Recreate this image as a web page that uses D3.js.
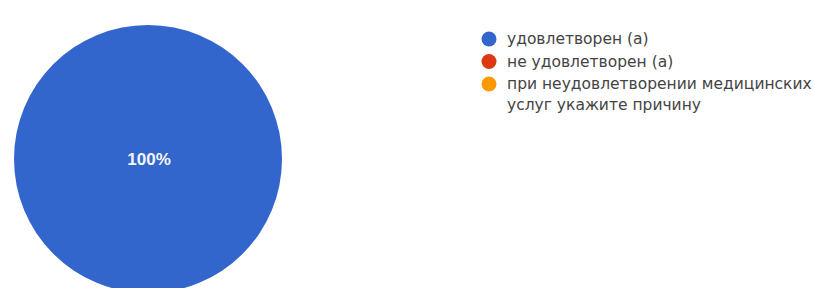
<!DOCTYPE html>
<html>
<head>
<meta charset="utf-8">
<script src="https://cdn.jsdelivr.net/npm/d3@7"></script>
<style>
  body { margin: 0; background: #fff; }
  text { font-family: Arial, "Liberation Sans", sans-serif; }
  .legend-label { font-family: "DejaVu Sans", Verdana, sans-serif; }
</style>
</head>
<body>
<div class="chart"></div>
<script>
const categories = ['удовлетворен (а)', 'не удовлетворен (а)', 'при неудовлетворении медицинских услуг укажите причину'];
const values = [100, 0, 0];
const colors = ['#3366cc', '#dc3912', '#ff9900'];
// legend labels split into lines as shown in the picture
const legendLines = [['удовлетворен (а)'], ['не удовлетворен (а)'], ['при неудовлетворении медицинских', 'услуг укажите причину']];

const width = 815, height = 288;
const svg = d3.select('.chart').append('svg')
    .attr('width', width)
    .attr('height', height);

const radius = 134;
const data = categories.map((c, i) => ({ name: c, value: values[i], color: colors[i] }));

const pie = d3.pie().value(d => d.value).sort(null);
const arc = d3.arc().innerRadius(0).outerRadius(radius);
const total = d3.sum(values);

const pieGroup = svg.append('g')
    .attr('transform', `translate(148, 159)`);

pieGroup.selectAll('path')
    .data(pie(data).filter(d => d.data.value > 0))
    .enter()
    .append('path')
    .attr('d', arc)
    .attr('fill', d => d.data.color);

pieGroup.selectAll('.slice-label')
    .data(pie(data).filter(d => d.data.value > 0))
    .enter()
    .append('text')
    .attr('class', 'slice-label')
    .attr('transform', d => d.endAngle - d.startAngle >= 2 * Math.PI - 1e-6 ? 'translate(1,0)' : `translate(${arc.centroid(d)})`)
    .attr('text-anchor', 'middle')
    .attr('dy', '0.35em')
    .attr('fill', '#f4f6fb')
    .style('font-size', '17px')
    .style('font-weight', 'bold')
    .text(d => `${Math.round(d.data.value / total * 100)}%`);

// legend
const legend = svg.append('g').attr('transform', 'translate(489, 39)');
const items = legend.selectAll('.item')
    .data(data)
    .enter()
    .append('g')
    .attr('class', 'item')
    .attr('transform', (d, i) => `translate(0, ${i * 22.5})`);

items.append('circle')
    .attr('r', 7.5)
    .attr('fill', d => d.color);

items.append('text')
    .attr('class', 'legend-label')
    .attr('fill', '#444')
    .style('font-size', '15.5px')
    .selectAll('tspan')
    .data((d, i) => legendLines[i])
    .enter()
    .append('tspan')
    .attr('x', 18)
    .attr('dy', (d, i) => i === 0 ? '0.35em' : '1.3em')
    .text(d => d);
</script>
</body>
</html>
